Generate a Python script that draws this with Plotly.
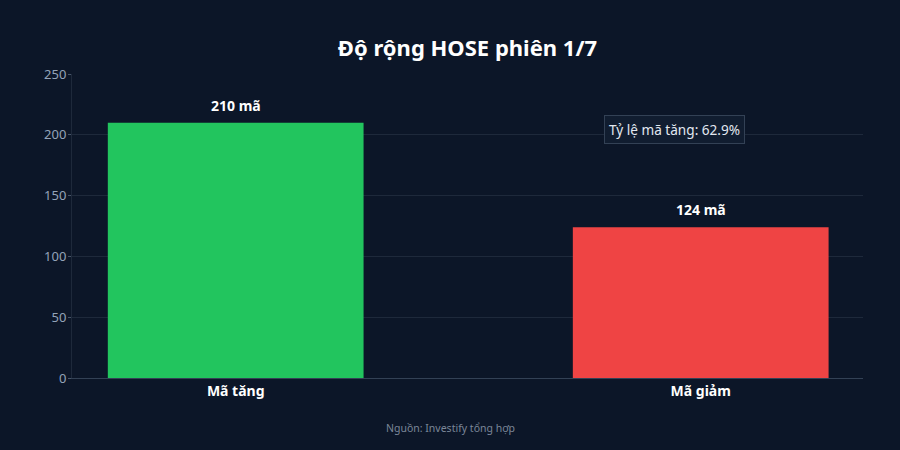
import plotly.graph_objects as go

categories = ["Mã tăng", "Mã giảm"]
values = [210, 124]
bar_labels = ["210 mã", "124 mã"]
colors = ["#22c55e", "#ef4444"]
title_text = "Độ rộng HOSE phiên 1/7"
ratio_text = "Tỷ lệ mã tăng: 62.9%"
source_text = "Nguồn: Investify tổng hợp"

bg = "#0c1628"
font_family = "Noto Sans"
xpos = list(range(len(categories)))

fig = go.Figure(go.Bar(
    x=xpos,
    y=values,
    width=0.55,
    marker=dict(color=colors, line=dict(width=0)),
    hoverinfo="skip",
))

label_annotations = [
    dict(x=xi, y=v, xref="x", yref="y", text=t, showarrow=False,
         xanchor="center", yanchor="bottom", yshift=6,
         font=dict(family=font_family, size=14, color="#ffffff", weight="bold"))
    for xi, v, t in zip(xpos, values, bar_labels)
]

fig.update_layout(
    width=900, height=450,
    paper_bgcolor=bg, plot_bgcolor=bg,
    margin=dict(l=72, r=37, t=74, b=72),
    font=dict(family=font_family, color="#94a3b8", size=13),
    showlegend=False,
    title=dict(text=title_text, xref="paper", x=0.5, xanchor="center", y=0.893, yanchor="middle",
               font=dict(family=font_family, size=22, color="#ffffff", weight="bold")),
    xaxis=dict(
        tickmode="array", tickvals=xpos, ticktext=categories,
        range=[-0.352, 1.349],
        tickfont=dict(family=font_family, size=14, color="#ffffff", weight="bold"),
        showgrid=False, zeroline=False,
        showline=True, linecolor="#334155", linewidth=1,
        ticks="",
    ),
    yaxis=dict(
        range=[0, 250], dtick=50,
        showgrid=True, gridcolor="#1e293b", gridwidth=1,
        zeroline=False,
        showline=True, linecolor="#1e293b", linewidth=1,
        ticks="outside", ticklen=3, tickcolor="#475569",
        ticklabelstandoff=-1,
        tickfont=dict(family=font_family, size=13, color="#94a3b8"),
    ),
    annotations=label_annotations + [
        dict(text=ratio_text, xref="paper", yref="paper", x=0.762, y=0.816,
             xanchor="center", yanchor="middle", showarrow=False,
             font=dict(family=font_family, size=13.6, color="#e2e8f0"),
             bgcolor="#111d30", bordercolor="#334155", borderwidth=1, borderpad=4),
        dict(text=source_text, xref="paper", yref="paper", x=0.478, y=-0.165,
             xanchor="center", yanchor="middle", showarrow=False,
             font=dict(family=font_family, size=10.5, color="#7b8698")),
    ],
)

fig.write_html("out.html")
